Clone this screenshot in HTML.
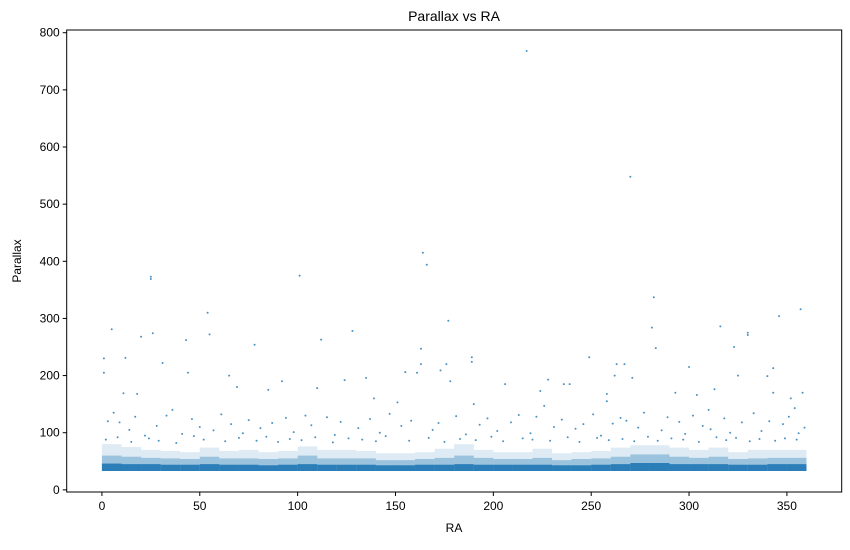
<!DOCTYPE html>
<html><head><meta charset="utf-8"><style>
body{margin:0;background:#fff;font-family:"Liberation Sans",sans-serif;}
svg text{font-family:"Liberation Sans",sans-serif;fill:#000;}
</style></head><body>
<svg id="chart" width="850" height="545">
<rect width="850" height="545" fill="#fff"/>
<g id="band"></g><g id="pts"></g><g id="axes"></g>
<rect x="66.7" y="30" width="775" height="462" fill="none" stroke="#000" stroke-width="1"/>
<text x="454" y="21" font-size="14" text-anchor="middle">Parallax vs RA</text>
<text x="454" y="532" font-size="12" text-anchor="middle">RA</text>
<text x="21" y="261" font-size="12" text-anchor="middle" transform="rotate(-90 21 261)">Parallax</text>
</svg>
<script>
const xTicks=[0,50,100,150,200,250,300,350];
const yTicks=[0,100,200,300,400,500,600,700,800];
const binStart=[0,10,20,30,40,50,60,70,80,90,100,110,120,130,140,150,160,170,180,190,200,210,220,230,240,250,260,270,280,290,300,310,320,330,340,350];
const denseTop=[46,45,45,44,44,45,44,44,43,44,45,44,44,44,43,43,44,44,45,44,44,44,44,43,43,44,45,47,47,45,45,45,44,44,45,45];
const lightTop=[60,58,56,55,54,58,55,55,54,55,60,55,55,55,52,52,54,56,60,56,54,54,56,52,54,55,58,62,62,58,56,58,54,55,56,56];
const midTop=[80,75,70,68,66,74,68,70,66,68,76,70,70,68,64,64,66,72,80,70,66,66,72,64,66,68,74,78,78,74,70,74,66,70,70,70];
const ra=[217,270,25,25,101,164,166,54,357,5,26,55,128,177,282,316,281,330,330,346,1,1,12,31,43,78,112,65,69,135,189,189,163,163,173,263,267,258,271,323,340,343,283,304,343,358,11,20,249,44,155,161,206,228,224,226,300,313,293,18,85,92,110,124,139,151,190,176,178,236,239,258,310,352,354,262,325,
3,6,9,14,17,22,28,33,36,41,46,50,57,61,66,72,75,81,87,94,98,104,107,115,119,122,131,137,142,147,153,158,169,172,181,186,193,197,202,209,213,219,222,231,235,242,246,251,255,261,265,268,274,277,286,289,295,298,302,307,311,318,321,327,333,337,341,348,351,356,359,
2,8,15,24,29,38,47,52,63,70,79,84,90,96,102,109,118,126,133,140,145,157,167,175,183,191,199,205,215,220,229,238,244,253,259,266,272,279,284,291,297,305,314,319,324,331,336,344,349,355];
const parallax=[768,548,373,369,375,415,394,310,316,281,274,272,278,296,337,286,284,275,271,304,230,205,231,222,262,254,263,200,180,196,232,224,247,220,209,220,220,168,196,250,199,213,248,166,170,170,169,268,232,205,206,205,185,193,173,147,215,176,170,168,175,190,178,192,160,153,150,220,190,185,185,155,140,160,143,200,200,
120,135,118,105,128,95,112,130,140,98,124,110,104,132,115,99,122,108,117,126,101,130,113,127,96,119,108,124,100,133,112,121,105,117,129,97,114,125,103,118,131,99,128,110,123,107,115,132,95,116,126,121,109,135,104,127,119,98,130,112,106,125,100,118,134,103,120,115,128,99,109,
88,92,84,90,86,82,94,88,85,91,86,93,84,89,87,92,83,90,88,85,94,86,91,84,89,87,93,85,90,88,86,92,84,91,87,89,85,93,86,90,88,84,92,87,91,85,89,86,90,88];
const X0=66.7,X1=841.7,XMIN=-18,XMAX=378,Y0=492,Y1=30,YMIN=-3.75,YMAX=804.75;
const sx=v=>X0+(v-XMIN)/(XMAX-XMIN)*(X1-X0);
const sy=v=>Y0-(v-YMIN)/(YMAX-YMIN)*(Y0-Y1);
const NS='http://www.w3.org/2000/svg';
const band=document.getElementById('band'),pts=document.getElementById('pts'),axes=document.getElementById('axes');
const BASE=33;
function layer(tops,op,name){
 binStart.forEach((b,i)=>{
  const e=Math.min(b+10,360);
  const m=document.createElementNS(NS,'rect');
  m.setAttribute('x',sx(b));m.setAttribute('width',sx(e)-sx(b));
  m.setAttribute('y',sy(tops[i]));m.setAttribute('height',sy(BASE)-sy(tops[i]));
  m.setAttribute('fill','#1f77b4');m.setAttribute('opacity',op);
  
  
  band.appendChild(m);
 });
}
layer(midTop,'0.15','scatter-band-sparse');
layer(lightTop,'0.35','scatter-band-medium');
layer(denseTop,'0.9','scatter-band-dense');
ra.forEach((r,i)=>{
 const c=document.createElementNS(NS,'circle');
 c.setAttribute('cx',sx(r));c.setAttribute('cy',sy(parallax[i]));c.setAttribute('r',1);
 c.setAttribute('fill','#1f77b4');c.setAttribute('opacity','0.8');
 
 
 pts.appendChild(c);
});
xTicks.forEach(t=>{
 const x=sx(t);
 const l=document.createElementNS(NS,'line');
 l.setAttribute('x1',x);l.setAttribute('x2',x);l.setAttribute('y1',Y0);l.setAttribute('y2',Y0+4);l.setAttribute('stroke','#000');
 
 
 axes.appendChild(l);
 const tx=document.createElementNS(NS,'text');
 tx.setAttribute('x',x);tx.setAttribute('y',Y0+18);tx.setAttribute('font-size','12');tx.setAttribute('text-anchor','middle');
 tx.textContent=t;
 
 
 axes.appendChild(tx);
});
yTicks.forEach(t=>{
 const y=sy(t);
 const l=document.createElementNS(NS,'line');
 l.setAttribute('x1',X0-4);l.setAttribute('x2',X0);l.setAttribute('y1',y);l.setAttribute('y2',y);l.setAttribute('stroke','#000');
 
 
 axes.appendChild(l);
 const tx=document.createElementNS(NS,'text');
 tx.setAttribute('x',X0-7);tx.setAttribute('y',y+4);tx.setAttribute('font-size','12');tx.setAttribute('text-anchor','end');
 tx.textContent=t;
 
 
 axes.appendChild(tx);
});
</script>
</body></html>
